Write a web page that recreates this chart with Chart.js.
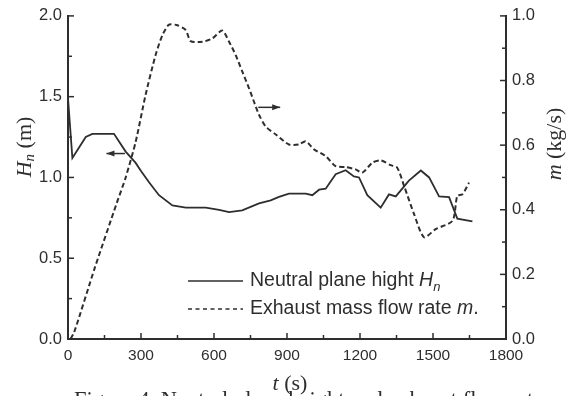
<!DOCTYPE html>
<html>
<head>
<meta charset="utf-8">
<script src="https://cdn.jsdelivr.net/npm/chart.js@4.4.1/dist/chart.umd.min.js"></script>
<style>
  html, body { margin: 0; padding: 0; background: #ffffff; }
  #wrap { width: 571px; height: 396px; position: relative; }
</style>
</head>
<body>
<div id="wrap"><canvas id="c" width="571" height="396"></canvas></div>
<script>
// ---- data ----
const timeH = [0, 18, 73, 100, 189, 237, 278, 300, 333, 374, 429, 484, 566, 621, 662, 716, 785, 833, 867, 908, 977, 1004, 1032, 1059, 1100, 1141, 1175, 1196, 1230, 1285, 1319, 1347, 1401, 1450, 1484, 1525, 1566, 1600, 1662];
const heightH = [1.49, 1.12, 1.25, 1.27, 1.27, 1.16, 1.09, 1.04, 0.97, 0.89, 0.827, 0.813, 0.813, 0.80, 0.785, 0.796, 0.84, 0.858, 0.88, 0.90, 0.90, 0.89, 0.924, 0.93, 1.02, 1.045, 1.006, 1.0, 0.89, 0.813, 0.895, 0.883, 0.98, 1.043, 1.0, 0.883, 0.878, 0.745, 0.728];

const timeM = [10, 25, 110, 200, 237, 278, 319, 360, 388, 415, 449, 484, 504, 552, 593, 634, 662, 689, 716, 744, 764, 785, 812, 854, 908, 949, 977, 1011, 1059, 1100, 1141, 1182, 1210, 1251, 1285, 1326, 1353, 1381, 1422, 1463, 1511, 1580, 1600, 1621, 1648];
const massM = [0.0, 0.02, 0.22, 0.42, 0.50, 0.61, 0.756, 0.879, 0.94, 0.973, 0.971, 0.956, 0.922, 0.92, 0.93, 0.955, 0.92, 0.879, 0.828, 0.776, 0.735, 0.694, 0.658, 0.633, 0.602, 0.602, 0.612, 0.587, 0.566, 0.535, 0.532, 0.525, 0.515, 0.546, 0.553, 0.538, 0.53, 0.474, 0.387, 0.315, 0.34, 0.366, 0.443, 0.448, 0.484];

const xTicks = [0, 300, 600, 900, 1200, 1500, 1800];
const yLeftTicks = [0.0, 0.5, 1.0, 1.5, 2.0];
const yRightTicks = [0.0, 0.2, 0.4, 0.6, 0.8, 1.0];

const legendLabels = ["Neutral plane hight ", "Exhaust mass flow rate "];
const captionText = "Figure 4  Neutral plane height and exhaust flow rate";

// arrows (data coordinates): [tStart, tEnd, value]
const arrowLeft = [234, 158, 1.148];
const arrowRight = [782, 872, 0.717];

// ---- styling ----
const INK = '#2e2e2e';
const SANS = '"Liberation Sans", Arial, sans-serif';
const SERIF = '"Liberation Serif", "Times New Roman", serif';

function toPts(xs, ys) { return xs.map((x, i) => ({ x: x, y: ys[i] })); }

function drawRich(ctx, parts, cx, cy, rot) {
  ctx.save();
  ctx.translate(cx, cy);
  if (rot) ctx.rotate(rot);
  let total = 0;
  parts.forEach(p => { ctx.font = p.font; p.w = ctx.measureText(p.text).width; total += p.w; });
  let x = -total / 2;
  ctx.textBaseline = 'middle';
  ctx.textAlign = 'left';
  parts.forEach(p => { ctx.font = p.font; ctx.fillText(p.text, x, p.dy || 0); x += p.w; });
  ctx.restore();
}
function drawRichLeft(ctx, parts, x, y) {
  ctx.save();
  ctx.textBaseline = 'middle';
  ctx.textAlign = 'left';
  parts.forEach(p => { ctx.font = p.font; ctx.fillText(p.text, x, y + (p.dy || 0)); x += ctx.measureText(p.text).width; });
  ctx.restore();
}

const decorations = {
  id: 'decorations',
  afterDraw(chart) {
    const { ctx, chartArea: a, scales } = chart;
    const sx = scales.x, sy = scales.y, sy1 = scales.y1;
    ctx.save();
    ctx.strokeStyle = INK;
    ctx.fillStyle = INK;
    ctx.lineWidth = 1.5;
    const seg = (x1, y1, x2, y2) => { ctx.beginPath(); ctx.moveTo(x1, y1); ctx.lineTo(x2, y2); ctx.stroke(); };
    // inward ticks, major and minor (midpoints)
    const majMin = (ticks) => {
      const out = [];
      ticks.forEach((v, i) => { out.push([v, true]); if (i < ticks.length - 1) out.push([(v + ticks[i + 1]) / 2, false]); });
      return out;
    };
    majMin(xTicks).forEach(([v, maj]) => { const p = sx.getPixelForValue(v); seg(p, a.bottom, p, a.bottom - (maj ? 6 : 4)); });
    majMin(yLeftTicks).forEach(([v, maj]) => { const p = sy.getPixelForValue(v); seg(a.left, p, a.left + (maj ? 6 : 4), p); });
    majMin(yRightTicks).forEach(([v, maj]) => { const p = sy1.getPixelForValue(v); seg(a.right, p, a.right - (maj ? 6 : 4), p); });

    // arrows
    const arrow = (x1, x2, y) => {
      seg(x1, y, x2, y);
      const dir = Math.sign(x2 - x1);
      ctx.beginPath();
      ctx.moveTo(x2, y);
      ctx.lineTo(x2 - dir * 8, y - 3);
      ctx.lineTo(x2 - dir * 8, y + 3);
      ctx.closePath();
      ctx.fill();
    };
    arrow(sx.getPixelForValue(arrowLeft[0]), sx.getPixelForValue(arrowLeft[1]), sy.getPixelForValue(arrowLeft[2]));
    arrow(sx.getPixelForValue(arrowRight[0]), sx.getPixelForValue(arrowRight[1]), sy1.getPixelForValue(arrowRight[2]));

    // legend (inside plot, lower right)
    const lx1 = a.left + 120, lx2 = a.left + 175, tx = a.left + 182;
    const ly1 = a.top + 265, ly2 = a.top + 293;
    ctx.lineWidth = 1.5;
    ctx.setLineDash([]);
    seg(lx1, ly1, lx2, ly1);
    ctx.setLineDash([4, 3.5]);
    seg(lx1, ly2, lx2, ly2);
    ctx.setLineDash([]);
    const LF = '19.5px ' + SANS, LFI = 'italic 19.5px ' + SANS, LFS = 'italic 13px ' + SANS;
    drawRichLeft(ctx, [{ text: legendLabels[0], font: LF }, { text: 'H', font: LFI }, { text: 'n', font: LFS, dy: 6 }], tx, ly1);
    drawRichLeft(ctx, [{ text: legendLabels[1], font: LF }, { text: 'm', font: LFI }, { text: '.', font: LF }], tx, ly2);

    // axis titles
    const TF = '22px ' + SERIF, TFI = 'italic 22px ' + SERIF, TFS = 'italic 15px ' + SERIF;
    drawRich(ctx, [{ text: 'H', font: TFI }, { text: 'n', font: TFS, dy: 5 }, { text: ' (m)', font: TF }], 25, 147, -Math.PI / 2);
    drawRich(ctx, [{ text: 'm', font: TFI }, { text: ' (kg/s)', font: TF }], 555, 144, -Math.PI / 2);
    drawRich(ctx, [{ text: 't', font: TFI }, { text: ' (s)', font: TF }], 290, 384, 0);

    // caption (cut by the bottom edge, as in the reference)
    ctx.font = '22.5px ' + SERIF;
    ctx.textAlign = 'left';
    ctx.textBaseline = 'alphabetic';
    ctx.fillText(captionText, 74, 407);
    ctx.restore();
  }
};

const chart = new Chart(document.getElementById('c'), {
  type: 'line',
  data: {
    datasets: [
      {
        label: 'Neutral plane hight Hn',
        data: toPts(timeH, heightH),
        yAxisID: 'y',
        borderColor: INK,
        borderWidth: 1.8,
        pointRadius: 0,
        tension: 0,
        fill: false
      },
      {
        label: 'Exhaust mass flow rate m.',
        data: toPts(timeM, massM),
        yAxisID: 'y1',
        borderColor: INK,
        borderWidth: 2,
        borderDash: [5, 3],
        pointRadius: 0,
        tension: 0.25,
        fill: false
      }
    ]
  },
  plugins: [decorations],
  options: {
    responsive: false,
    animation: false,
    devicePixelRatio: 1,
    layout: { padding: { top: 14, left: 0, right: 0, bottom: 0 } },
    plugins: { legend: { display: false }, tooltip: { enabled: false } },
    scales: {
      x: {
        type: 'linear',
        min: 0, max: 1800,
        afterBuildTicks: (s) => { s.ticks = xTicks.map(v => ({ value: v })); },
        afterFit: (s) => { s.height = 57; },
        ticks: { color: INK, font: { family: SANS, size: 15.5 }, padding: 7, maxRotation: 0, callback: v => String(v) },
        grid: { display: true, drawOnChartArea: false, drawTicks: false },
        border: { display: true, color: INK, width: 2 }
      },
      y: {
        position: 'left',
        min: 0, max: 2,
        afterBuildTicks: (s) => { s.ticks = yLeftTicks.map(v => ({ value: v })); },
        afterFit: (s) => { s.width = 68; },
        ticks: { color: INK, font: { family: SANS, size: 16.5 }, padding: 6, callback: v => Number(v).toFixed(1) },
        grid: { display: true, drawOnChartArea: false, drawTicks: false },
        border: { display: true, color: INK, width: 2 }
      },
      y1: {
        position: 'right',
        min: 0, max: 1,
        afterBuildTicks: (s) => { s.ticks = yRightTicks.map(v => ({ value: v })); },
        afterFit: (s) => { s.width = 65; },
        ticks: { color: INK, font: { family: SANS, size: 16.5 }, padding: 6, callback: v => Number(v).toFixed(1) },
        grid: { display: true, drawOnChartArea: false, drawTicks: false },
        border: { display: true, color: INK, width: 2 }
      }
    }
  }
});
</script>
</body>
</html>
